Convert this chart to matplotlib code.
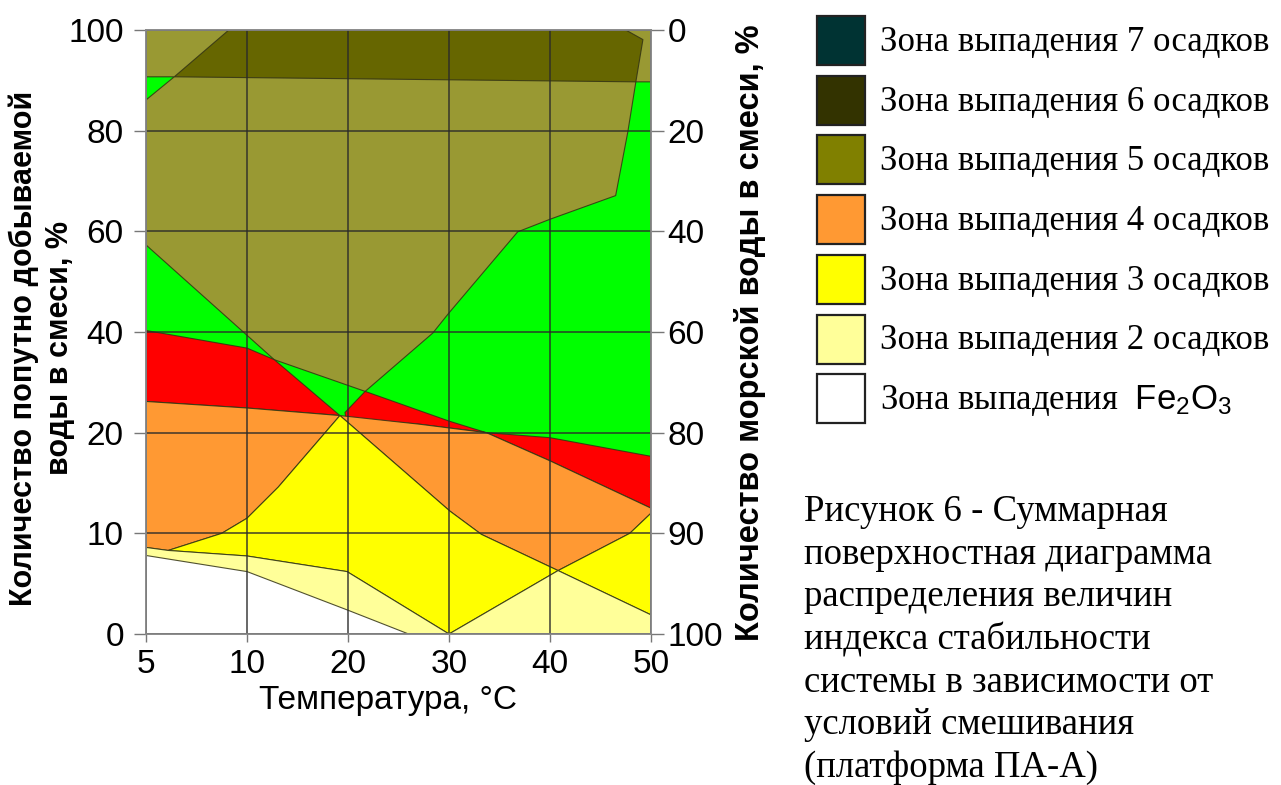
import numpy as np
import matplotlib
matplotlib.use("Agg")
import matplotlib.pyplot as plt
from matplotlib.patches import Polygon, Rectangle
from matplotlib.scale import FuncScale

# ---- axis values (ticks are evenly spaced on the chart) ----
temp_ticks = [5, 10, 20, 30, 40, 50]
water_ticks = [0, 10, 20, 40, 60, 80, 100]
sea_labels = ["100", "90", "80", "60", "40", "20", "0"]

# ---- zone outlines: temperature (°C) and produced water share (%) ----
zone5_T = [5, 50, 50, 48.5, 47.7, 46.5, 40, 36.8, 30, 28.4, 21.7, 12.7, 5, 5, 6.4, 5]
zone5_W = [100, 100, 89.7, 89.7, 79.7, 67.1, 62.4, 59.9, 43.8, 39.8, 28.2, 34.5, 57.3, 86.1, 90.7, 90.7]

zone6_T = [9.1, 47.5, 49.2, 48.5, 6.4]
zone6_W = [100, 100, 98.1, 89.7, 90.7]

red_left_T = [5, 10, 12.7, 19.2, 10, 5]
red_left_W = [40.3, 36.8, 34.5, 23.4, 24.9, 26.2]

red_right_T = [19.7, 21.7, 30, 33.7, 40, 50, 50, 40, 33.7, 27, 19.8]
red_right_W = [24.0, 28.2, 22.3, 20.0, 19.5, 17.65, 12.5, 17.2, 20.0, 21.7, 22.9]

orange_left_T = [5, 10, 19.2, 13.1, 10, 8.75, 6.1, 5]
orange_left_W = [26.2, 24.9, 23.4, 14.6, 11.5, 10.0, 8.3, 8.6]

orange_right_T = [19.2, 27, 33.7, 40, 50, 50, 47.9, 40.8, 33.2, 30.1]
orange_right_W = [23.4, 21.7, 20.0, 17.2, 12.5, 12.0, 10.0, 6.3, 9.9, 12.2]

yellow_mid_T = [6.1, 8.75, 10, 13.1, 19.2, 30.1, 33.2, 40.8, 30, 19.9, 10]
yellow_mid_W = [8.3, 10.0, 11.5, 14.6, 23.4, 12.2, 9.9, 6.3, 0, 6.2, 7.75]

yellow_right_T = [40.8, 47.9, 50, 50]
yellow_right_W = [6.3, 10.0, 12.0, 1.9]

pale_left_T = [5, 5, 6.1, 10, 19.9, 30]
pale_left_W = [0, 8.6, 8.3, 7.75, 6.2, 0]

pale_right_T = [30, 40.8, 50, 50]
pale_right_W = [0, 6.3, 1.9, 0]

fe_T = [5, 5, 10, 19.9, 26]
fe_W = [0, 7.8, 6.2, 2.4, 0]

C_GREEN = "#00ff00"
C_Z5 = "#999933"
C_Z6 = "#666600"
C_RED = "#ff0000"
C_ORANGE = "#ff9933"
C_YELLOW = "#ffff00"
C_PALE = "#ffff99"

legend_labels = [
    "Зона выпадения 7 осадков",
    "Зона выпадения 6 осадков",
    "Зона выпадения 5 осадков",
    "Зона выпадения 4 осадков",
    "Зона выпадения 3 осадков",
    "Зона выпадения 2 осадков",
    "Зона выпадения  $\\mathsf{Fe_2O_3}$",
]
legend_colors = ["#003333", "#333300", "#808000", "#ff9933", "#ffff00", "#ffff99", "#ffffff"]

caption_lines = [
    "Рисунок 6 - Суммарная",
    "поверхностная диаграмма",
    "распределения величин",
    "индекса стабильности",
    "системы в зависимости от",
    "условий смешивания",
    "(платформа ПА-А)",
]

plt.rcParams["font.family"] = ["Liberation Sans", "DejaVu Sans"]
plt.rcParams["mathtext.fontset"] = "custom"
plt.rcParams["mathtext.sf"] = "Liberation Sans"
plt.rcParams["mathtext.rm"] = "Liberation Sans"

W, H = 1281, 785
fig = plt.figure(figsize=(W / 100, H / 100), dpi=100)
fig.patch.set_facecolor("white")

ax = fig.add_axes([146 / W, 1 - 634 / H, 505 / W, 604 / H])

t_idx = np.arange(len(temp_ticks), dtype=float)
w_idx = np.arange(len(water_ticks), dtype=float)


def t_fwd(x):
    return np.interp(x, temp_ticks, t_idx)


def t_inv(x):
    return np.interp(x, t_idx, temp_ticks)


def w_fwd(y):
    return np.interp(y, water_ticks, w_idx)


def w_inv(y):
    return np.interp(y, w_idx, water_ticks)


ax.set_xscale(FuncScale(ax, (t_fwd, t_inv)))
ax.set_yscale(FuncScale(ax, (w_fwd, w_inv)))
ax.set_xlim(5, 50)
ax.set_ylim(0, 100)
ax.set_facecolor(C_GREEN)

zones = [
    (zone5_T, zone5_W, C_Z5),
    (zone6_T, zone6_W, C_Z6),
    (red_left_T, red_left_W, C_RED),
    (red_right_T, red_right_W, C_RED),
    (orange_left_T, orange_left_W, C_ORANGE),
    (orange_right_T, orange_right_W, C_ORANGE),
    (yellow_mid_T, yellow_mid_W, C_YELLOW),
    (yellow_right_T, yellow_right_W, C_YELLOW),
    (pale_left_T, pale_left_W, C_PALE),
    (pale_right_T, pale_right_W, C_PALE),
    (fe_T, fe_W, "#ffffff"),
]
for zt, zw, col in zones:
    ax.add_patch(Polygon(np.column_stack([zt, zw]), closed=True, facecolor=col,
                         edgecolor=(0.2, 0.2, 0.08, 0.85), linewidth=0.8, zorder=1))

ax.set_axisbelow(False)
ax.grid(True, color="#2a2a2a", linewidth=1.1, alpha=0.9)
ax.set_xticks(temp_ticks)
ax.set_xticklabels([str(t) for t in temp_ticks])
ax.set_yticks(water_ticks)
ax.set_yticklabels([str(w) for w in water_ticks])
ax.minorticks_off()
ax.tick_params(axis="y", length=9, width=1, color="#777777", pad=7, labelsize=24)
ax.tick_params(axis="x", length=6, width=1, color="#777777", pad=5, labelsize=24)
for s in ax.spines.values():
    s.set_color("#8a8a8a")
    s.set_linewidth(1.2)

ax2 = ax.twinx()
ax2.set_yscale(FuncScale(ax2, (w_fwd, w_inv)))
ax2.set_ylim(0, 100)
ax2.set_yticks(water_ticks)
ax2.set_yticklabels(sea_labels)
ax2.minorticks_off()
ax2.tick_params(axis="y", length=9, width=1, color="#777777", pad=3, labelsize=24)
for s in ax2.spines.values():
    s.set_color("#8a8a8a")
    s.set_linewidth(1.2)

# axis titles
fig.text(42 / W, 1 - 348 / H, "Количество попутно добываемой\nводы в смеси, %",
         rotation=90, ha="center", va="center", multialignment="center",
         fontsize=22, fontweight="bold", linespacing=1.25)
fig.text(750 / W, 1 - 333 / H, "Количество морской воды в смеси, %",
         rotation=90, ha="center", va="center", fontsize=23.5, fontweight="bold")
fig.text(388 / W, 1 - 700 / H, "Температура, °C", ha="center", va="center", fontsize=24)

# legend
for i, (lab, col) in enumerate(zip(legend_labels, legend_colors)):
    yc = 40.5 + i * 59.7
    fig.patches.append(Rectangle((817 / W, 1 - (yc + 24.5) / H), 48 / W, 49 / H,
                                 transform=fig.transFigure, facecolor=col,
                                 edgecolor="#222222", linewidth=1.6))
    fig.text(880 / W, 1 - (yc + 2) / H, lab, ha="left", va="center",
             fontsize=25, family=["Liberation Serif", "DejaVu Serif"])

# caption
for i, line in enumerate(caption_lines):
    fig.text(804 / W, 1 - (512 + i * 42.6) / H, line, ha="left", va="center",
             fontsize=26.5, family=["Liberation Serif", "DejaVu Serif"])

fig.savefig("out.png", dpi=100, facecolor="white")
